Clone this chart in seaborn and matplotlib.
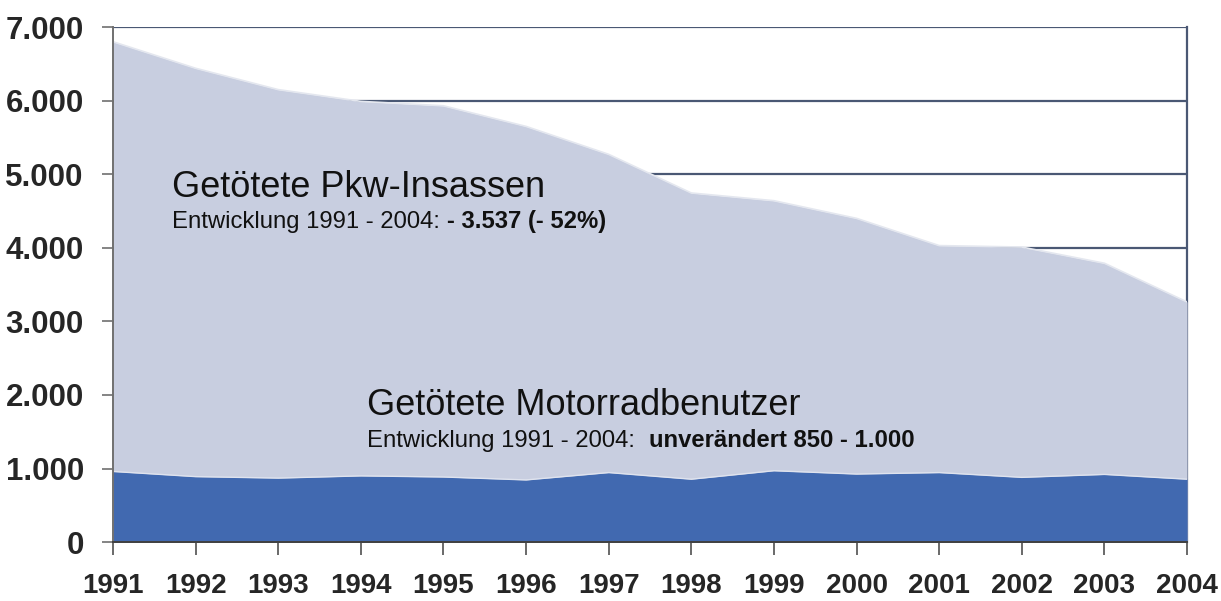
import matplotlib
matplotlib.use("Agg")
import matplotlib.pyplot as plt
import seaborn as sns
import pandas as pd

# Daten
jahre = [1991, 1992, 1993, 1994, 1995, 1996, 1997, 1998, 1999, 2000, 2001, 2002, 2003, 2004]
pkw_insassen = [6801, 6440, 6150, 5990, 5930, 5650, 5270, 4745, 4640, 4400, 4030, 4010, 3790, 3264]
motorrad = [960, 890, 870, 900, 885, 845, 945, 855, 970, 925, 945, 880, 920, 855]
y_ticks = [0, 1000, 2000, 3000, 4000, 5000, 6000, 7000]
y_labels = ["0", "1.000", "2.000", "3.000", "4.000", "5.000", "6.000", "7.000"]

df = pd.DataFrame({"jahr": jahre, "pkw": pkw_insassen, "motorrad": motorrad})

sns.set_style("white")
plt.rcParams['font.family'] = ['Liberation Sans', 'DejaVu Sans']

LIGHT = '#c8cee0'
DARK = '#4169b0'
GRID = '#4a5874'

fig = plt.figure(figsize=(12.21, 6.01), dpi=100)
ax = fig.add_axes([0.0925, 0.098, 0.8797, 0.857])

ax.fill_between(df["jahr"], 0, df["pkw"], color=LIGHT, zorder=2, linewidth=0)
ax.fill_between(df["jahr"], 0, df["motorrad"], color=DARK, zorder=3, linewidth=0)
sns.lineplot(data=df, x="jahr", y="pkw", color='#e4e7ef', linewidth=1.2, ax=ax, zorder=2.5)
sns.lineplot(data=df, x="jahr", y="motorrad", color='#dfe3ee', linewidth=1.0, ax=ax, zorder=3.5)

ax.set_xlim(1991, 2004)
ax.set_ylim(0, 7000)
ax.set_xticks(jahre)
ax.set_xticklabels([str(j) for j in jahre], fontsize=20, fontweight='bold')
ax.set_yticks(y_ticks)
ax.set_yticklabels(y_labels, fontsize=22.5, fontweight='bold')
ax.set_xlabel("")
ax.set_ylabel("")

for y in y_ticks[1:]:
    ax.axhline(y, color=GRID, linewidth=1.6, zorder=1)

ax.tick_params(axis='y', direction='out', length=8, width=1.2, color='#707070', pad=13, left=True)
ax.tick_params(axis='x', direction='out', length=9, width=1.2, color='#505050', pad=13, bottom=True)

ax.spines['top'].set_visible(False)
ax.spines['right'].set_color(GRID)
ax.spines['right'].set_linewidth(1.6)
ax.spines['right'].set_zorder(1)
ax.spines['left'].set_color('#707070')
ax.spines['left'].set_linewidth(1.4)
ax.spines['left'].set_zorder(4)
ax.spines['bottom'].set_color('#404040')
ax.spines['bottom'].set_linewidth(1.4)
ax.spines['bottom'].set_zorder(4)

# Beschriftungen
ax.text(1991.72, 4825, "Getötete Pkw-Insassen", fontsize=26, color='#111111', va='center', zorder=5)
t1 = ax.text(1991.72, 4268, "Entwicklung 1991 - 2004: ", fontsize=17.2, color='#111111', va='baseline', zorder=5)
ax.text(1994.08, 1862, "Getötete Motorradbenutzer", fontsize=26, color='#111111', va='center', zorder=5)
t2 = ax.text(1994.08, 1291, "Entwicklung 1991 - 2004:  ", fontsize=17.2, color='#111111', va='baseline', zorder=5)

fig.canvas.draw()
renderer = fig.canvas.get_renderer()
for t, bold in [(t1, "- 3.537 (- 52%)"), (t2, "unverändert 850 - 1.000")]:
    bb = t.get_window_extent(renderer)
    x_end = ax.transData.inverted().transform((bb.x1, bb.y0))[0]
    ax.text(x_end, t.get_position()[1], bold, fontsize=17.2, fontweight='bold',
            color='#111111', va='baseline', zorder=5)

fig.savefig("out.png", dpi=100, facecolor='white')
